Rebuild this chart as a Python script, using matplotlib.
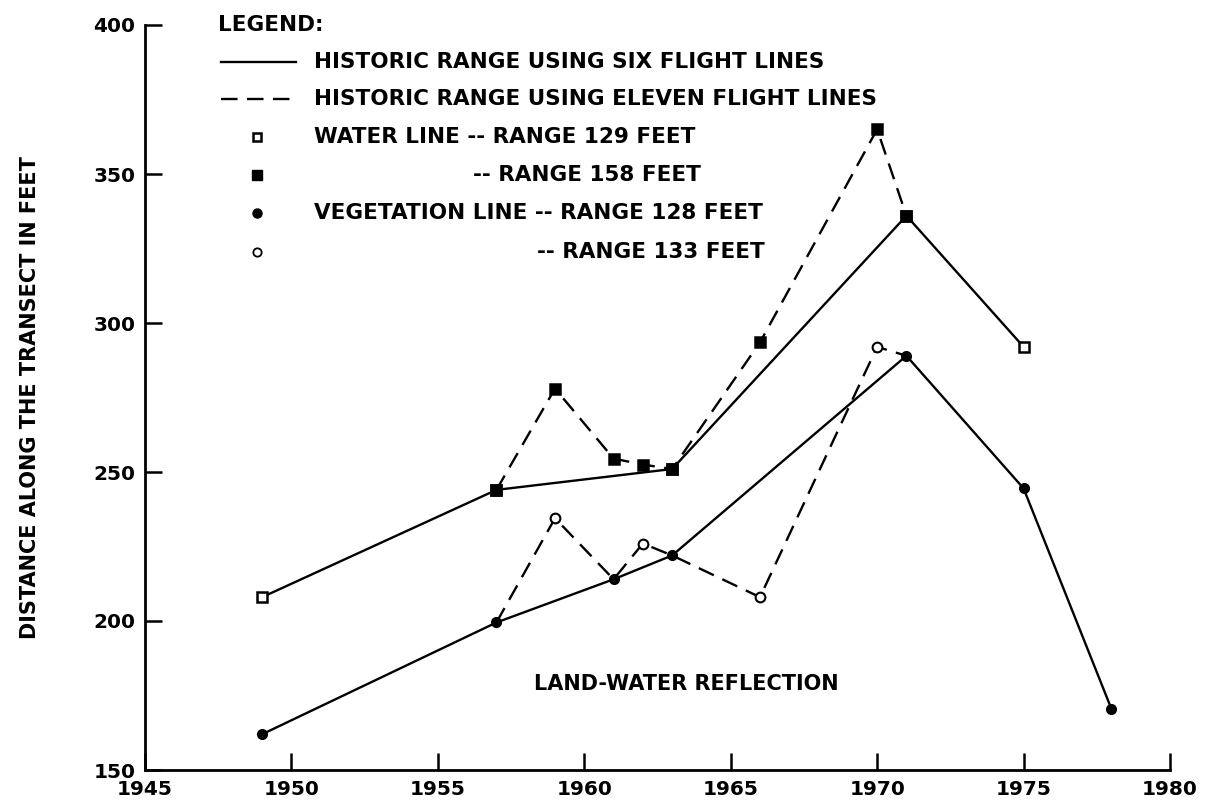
import matplotlib.pyplot as plt
from matplotlib.lines import Line2D

# water line, six flight lines (solid)
w6_years = [1949, 1957, 1963, 1971, 1975]
w6_dist = [208, 244, 251, 336, 292]
# water line, eleven flight lines (dashed)
w11_years = [1957, 1959, 1961, 1962, 1963, 1966, 1970, 1971]
w11_dist = [244, 278, 254.5, 252.5, 251, 293.5, 365, 336]

# vegetation line, six flight lines (solid)
v6_years = [1949, 1957, 1961, 1963, 1971, 1975, 1978]
v6_dist = [162, 199.5, 214, 222, 289, 244.5, 170.5]
# vegetation line, eleven flight lines (dashed)
v11_years = [1957, 1959, 1961, 1962, 1963, 1966, 1970, 1971]
v11_dist = [199.5, 234.5, 214, 226, 222, 208, 292, 289]

# open markers = points from one set only
w_open = [1949, 1975]
v_open = [1959, 1962, 1966, 1970]

xticks = [1945, 1950, 1955, 1960, 1965, 1970, 1975, 1980]
yticks = [150, 200, 250, 300, 350, 400]

plt.rcParams['font.family'] = ['DejaVu Sans']
plt.rcParams['font.weight'] = 'bold'
W, H = 1207, 802
fig = plt.figure(figsize=(W / 100, H / 100), dpi=100)
ax = fig.add_axes([145 / W, 1 - 770 / H, 1025 / W, 745 / H])

lw = 1.7
dash = (0, (7, 4))
ax.plot(w6_years, w6_dist, 'k-', lw=lw)
ax.plot(w11_years, w11_dist, color='k', ls=dash, lw=lw)
ax.plot(v6_years, v6_dist, 'k-', lw=lw)
ax.plot(v11_years, v11_dist, color='k', ls=dash, lw=lw)

# markers: filled squares / circles, open where only one set has the point
for x, y in zip(w6_years + w11_years, w6_dist + w11_dist):
    ax.plot(x, y, marker='s', ms=7.5, mfc='white' if x in w_open else 'black',
            mec='black', mew=1.8, zorder=3)
for x, y in zip(v6_years, v6_dist):
    ax.plot(x, y, marker='o', ms=7, mfc='black', mec='black', zorder=3)
for x, y in zip(v11_years, v11_dist):
    if x in v_open:
        ax.plot(x, y, marker='o', ms=7, mfc='white', mec='black', mew=1.5, zorder=3)

ax.set_xlim(1945, 1980)
ax.set_ylim(150, 400)
ax.set_xticks(xticks)
ax.set_yticks(yticks)
ax.tick_params(direction='in', length=12, width=1.8, labelsize=14.5, pad=7)
for s in ['top', 'right']:
    ax.spines[s].set_visible(False)
for s in ['left', 'bottom']:
    ax.spines[s].set_linewidth(2)
ax.set_ylabel('DISTANCE ALONG THE TRANSECT IN FEET', fontsize=15,
              fontweight='bold', labelpad=38)

ax.text(1963.5, 179, 'LAND-WATER REFLECTION', fontsize=15, ha='center', va='center')

# legend block, placed in figure pixels
def fx(px):
    return px / W

def fy(py):
    return 1 - py / H

fs = 15.5
fig.text(fx(218), fy(25), 'LEGEND:', fontsize=fs, va='center')
fig.add_artist(Line2D([fx(221), fx(296)], [fy(62), fy(62)], color='k', lw=lw))
fig.add_artist(Line2D([fx(221), fx(296)], [fy(99), fy(99)], color='k', lw=lw, ls=dash))
fig.add_artist(Line2D([fx(257)], [fy(137)], marker='s', ms=6, mfc='white', mec='k', mew=1.8))
fig.add_artist(Line2D([fx(257)], [fy(175)], marker='s', ms=6.5, mfc='k', mec='k'))
fig.add_artist(Line2D([fx(257)], [fy(213)], marker='o', ms=6.5, mfc='k', mec='k'))
fig.add_artist(Line2D([fx(257)], [fy(252)], marker='o', ms=6, mfc='white', mec='k', mew=1.3))
fig.text(fx(314), fy(62), 'HISTORIC RANGE USING SIX FLIGHT LINES', fontsize=fs, va='center')
fig.text(fx(314), fy(99), 'HISTORIC RANGE USING ELEVEN FLIGHT LINES', fontsize=fs, va='center')
fig.text(fx(314), fy(137), 'WATER LINE -- RANGE 129 FEET', fontsize=fs, va='center')
fig.text(fx(473), fy(175), '-- RANGE 158 FEET', fontsize=fs, va='center')
fig.text(fx(314), fy(213), 'VEGETATION LINE -- RANGE 128 FEET', fontsize=fs, va='center')
fig.text(fx(537), fy(252), '-- RANGE 133 FEET', fontsize=fs, va='center')

fig.savefig('out.png', dpi=100)
